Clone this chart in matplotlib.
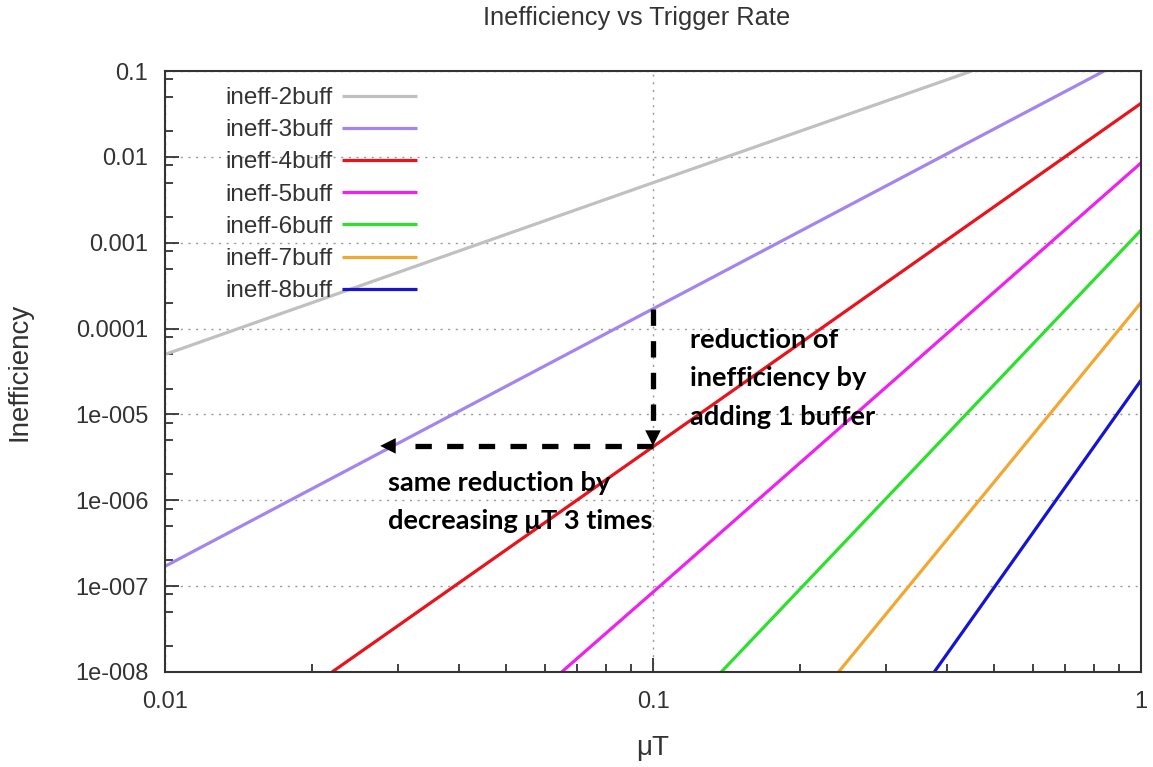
import matplotlib.pyplot as plt
from matplotlib.ticker import FixedLocator, NullFormatter, LogLocator

# series (x = muT, y = inefficiency)
series_names = ["ineff-2buff", "ineff-3buff", "ineff-4buff", "ineff-5buff",
                "ineff-6buff", "ineff-7buff", "ineff-8buff"]
series_x = [
    [0.01, 0.1, 0.45],
    [0.01, 0.1, 0.84],
    [0.022, 0.1, 1.0],
    [0.065, 0.1, 1.0],
    [0.138, 1.0],
    [0.24, 1.0],
    [0.377, 1.0],
]
series_y = [
    [5e-5, 5e-3, 0.1],
    [1.7e-7, 1.7e-4, 0.1],
    [1e-8, 4.2e-6, 0.042],
    [1e-8, 8.5e-8, 8.5e-3],
    [1e-8, 1.4e-3],
    [1e-8, 2.0e-4],
    [1e-8, 2.5e-5],
]
series_colors = ["#c0c0c0", "#a485ee", "#e8141c", "#ee22ee",
                 "#2ee02e", "#f2a830", "#1414d2"]

y_ticks = [1e-8, 1e-7, 1e-6, 1e-5, 1e-4, 1e-3, 1e-2, 1e-1]
y_tick_labels = ["1e-008", "1e-007", "1e-006", "1e-005", "0.0001",
                 "0.001", "0.01", "0.1"]
x_ticks = [0.01, 0.1, 1]
x_tick_labels = ["0.01", "0.1", "1"]

# annotation arrows (start of vertical arrow, corner, tip of horizontal arrow)
vert_top = (0.1, 1.7e-4)
corner = (0.1, 4.3e-6)
horiz_tip = (0.0276, 4.3e-6)

plt.rcParams["font.family"] = ["Liberation Sans", "DejaVu Sans"]
text_color = "#333333"

fig = plt.figure(figsize=(11.53, 7.67), dpi=100)
ax = fig.add_axes([0.1431, 0.1239, 0.8465, 0.7835])

for xs, ys, name, color in zip(series_x, series_y, series_names, series_colors):
    ax.plot(xs, ys, color=color, lw=2.3, label=name, solid_capstyle="butt")

ax.set_xscale("log")
ax.set_yscale("log")
ax.set_xlim(0.01, 1)
ax.set_ylim(1e-8, 0.1)

ax.xaxis.set_major_locator(FixedLocator(x_ticks))
ax.set_xticklabels(x_tick_labels)
ax.yaxis.set_major_locator(FixedLocator(y_ticks))
ax.set_yticklabels(y_tick_labels)
ax.xaxis.set_minor_locator(LogLocator(base=10, subs=range(2, 10)))
ax.yaxis.set_minor_locator(LogLocator(base=10, subs=[2, 5, 8]))
ax.xaxis.set_minor_formatter(NullFormatter())
ax.yaxis.set_minor_formatter(NullFormatter())

ax.tick_params(which="both", direction="in", colors=text_color, labelsize=17,
               width=1.3)
ax.tick_params(which="major", length=10)
ax.tick_params(which="minor", length=6)
ax.tick_params(axis="y", pad=12)
ax.tick_params(axis="x", pad=14)

for spine in ax.spines.values():
    spine.set_color(text_color)
    spine.set_linewidth(1.5)

ax.grid(True, which="major", linestyle=(0, (1.5, 4)), color="#999999", lw=1.0)

ax.set_ylabel("Inefficiency", fontsize=20, color=text_color, va="center")
ax.yaxis.set_label_coords(-0.1486, 0.5)
ax.set_xlabel("\u03bcT", fontsize=20, color=text_color, va="center")
ax.xaxis.set_label_coords(0.5, -0.126)

fig.text(637 / 1153, 1 - 18 / 767, "Inefficiency vs Trigger Rate",
         ha="center", va="center", fontsize=18.3, color=text_color)

ax.legend(loc="upper left", bbox_to_anchor=(225 / 1153, 1 - 87 / 767),
          bbox_transform=fig.transFigure, frameon=False, markerfirst=False,
          fontsize=17.5, handlelength=3.1, handletextpad=0.4, labelspacing=0.42,
          borderpad=0, borderaxespad=0, labelcolor=text_color)

# dashed arrows
dash = (0, (3.1, 2.9))
ax.plot([vert_top[0], corner[0]], [vert_top[1], corner[1] * 1.35], color="black",
        lw=3.8, linestyle=dash)
ax.plot([corner[0], horiz_tip[0] * 1.12], [corner[1], horiz_tip[1]], color="black",
        lw=3.8, linestyle=dash)
ax.annotate("", xy=corner, xytext=(corner[0], corner[1] * 1.6),
            arrowprops=dict(arrowstyle="-|>", color="black", lw=0,
                            mutation_scale=28, shrinkA=0, shrinkB=0))
ax.annotate("", xy=horiz_tip, xytext=(horiz_tip[0] * 1.2, horiz_tip[1]),
            arrowprops=dict(arrowstyle="-|>", color="black", lw=0,
                            mutation_scale=28, shrinkA=0, shrinkB=0))

note_font = dict(family=["Lato", "DejaVu Sans"], fontweight="bold", fontsize=19.6,
                 color="black", linespacing=1.72)
fig.text(690 / 1153, 1 - 328 / 767, "reduction of\ninefficiency by\nadding 1 buffer",
         ha="left", va="top", **note_font)
fig.text(388 / 1153, 1 - 471 / 767, "same reduction by\ndecreasing \u03bcT 3 times",
         ha="left", va="top", **note_font)

fig.savefig("out.png", dpi=100)
